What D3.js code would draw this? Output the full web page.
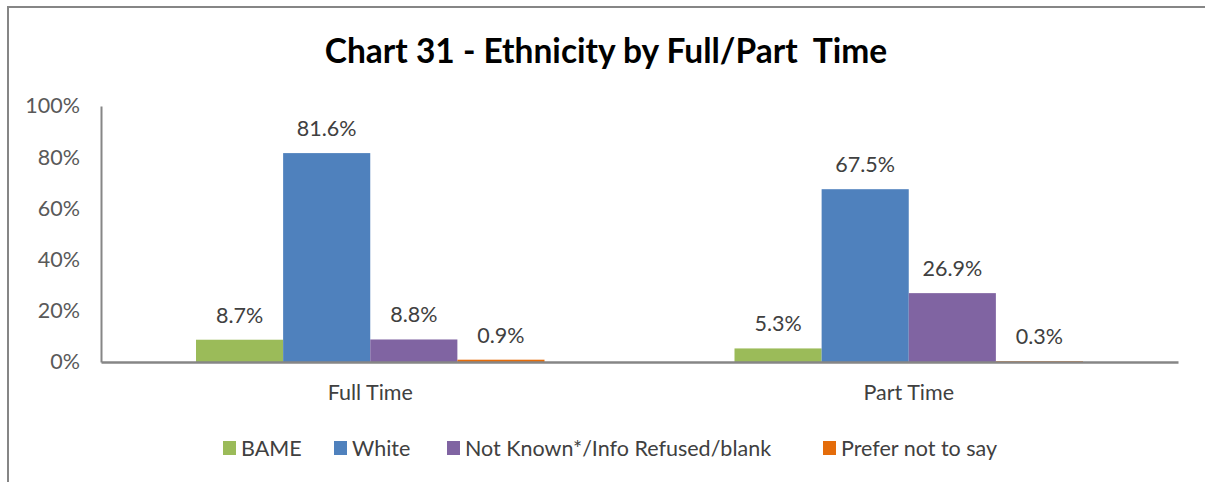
<!DOCTYPE html>
<html>
<head>
<meta charset="utf-8">
<script src="https://cdn.jsdelivr.net/npm/d3@7"></script>
<style>
  body { margin: 0; background: #fff; }
  svg { display: block; font-family: Lato, "Open Sans", sans-serif; }
</style>
</head>
<body>
<svg width="1205" height="482"></svg>
<script>
let categories = ["Full Time", "Part Time"];
let seriesNames = ["BAME", "White", "Not Known*/Info Refused/blank", "Prefer not to say"];
let seriesColors = ["#9BBB59", "#4F81BD", "#8064A2", "#E46C0A"];
let bame = [8.7, 5.3];
let white = [81.6, 67.5];
let notKnown = [8.8, 26.9];
let preferNot = [0.9, 0.3];
let yTicks = [0, 20, 40, 60, 80, 100];

let seriesValues = [bame, white, notKnown, preferNot];

let svg = d3.select("svg"),
    margin = { top: 106, left: 101, right: 27, bottom: 120 },
    plotW = 1178 - margin.left,
    plotH = 362 - margin.top,
    fontSize = 21.5;

// chart frame
svg.append("path")
    .attr("d", "M8,482 V7 H1205")
    .attr("fill", "none")
    .attr("stroke", "#868686")
    .attr("stroke-width", 2);

svg.append("text")
    .attr("x", 606)
    .attr("y", 63)
    .attr("text-anchor", "middle")
    .attr("font-size", 33.5)
    .attr("font-weight", "bold")
    .attr("fill", "#000")
    .text("Chart 31 - Ethnicity by Full/Part  Time")
    .style("white-space", "pre");

let g = svg.append("g")
    .attr("transform", "translate(" + [margin.left, margin.top] + ")");

let x0 = d3.scaleBand()
    .domain(categories)
    .range([0, plotW]);

let x1 = d3.scaleBand()
    .domain(seriesNames)
    .range([95, x0.bandwidth() - 95]);

let y = d3.scaleLinear()
    .domain([0, 100])
    .range([plotH, 0]);

// y axis
let yAxis = d3.axisLeft(y)
    .tickValues(yTicks)
    .tickFormat(d => d + "%")
    .tickSize(0)
    .tickPadding(21);

let gy = g.append("g").call(yAxis);
gy.select(".domain").attr("stroke", "#868686").attr("stroke-width", 2);
gy.selectAll("text")
    .attr("font-size", fontSize)
    .attr("font-family", "Lato, 'Open Sans', sans-serif")
    .attr("fill", "#595959");

// bars
let groups = g.selectAll(".cat")
    .data(categories)
    .enter().append("g")
    .attr("class", "cat")
    .attr("transform", d => "translate(" + x0(d) + ",0)");

groups.each(function (cat, ci) {
    let data = seriesNames.map((s, si) => ({ name: s, value: seriesValues[si][ci], color: seriesColors[si] }));
    let gg = d3.select(this);
    gg.selectAll("rect")
        .data(data)
        .enter().append("rect")
        .attr("x", d => x1(d.name))
        .attr("width", x1.bandwidth())
        .attr("y", d => y(d.value))
        .attr("height", d => plotH - y(d.value))
        .attr("fill", d => d.color);
    gg.selectAll(".lbl")
        .data(data)
        .enter().append("text")
        .attr("class", "lbl")
        .attr("x", d => x1(d.name) + x1.bandwidth() / 2)
        .attr("y", d => y(d.value) - 17)
        .attr("text-anchor", "middle")
        .attr("font-size", fontSize)
        .attr("fill", "#404040")
        .text(d => d.value.toFixed(1) + "%");
});

// x axis
let xAxis = d3.axisBottom(x0).tickSize(0).tickPadding(23);
let gx = g.append("g")
    .attr("transform", "translate(0," + plotH + ")")
    .call(xAxis);
gx.select(".domain").attr("stroke", "#868686").attr("stroke-width", 2.5);
gx.selectAll("text")
    .attr("font-size", fontSize)
    .attr("font-family", "Lato, 'Open Sans', sans-serif")
    .attr("fill", "#404040");

// legend
let legendX = [223, 334, 447, 823];
let legend = svg.append("g")
    .selectAll("g")
    .data(seriesNames)
    .enter().append("g")
    .attr("transform", (d, i) => "translate(" + [legendX[i], 448] + ")");

legend.append("rect")
    .attr("x", 0)
    .attr("y", -7)
    .attr("width", 13)
    .attr("height", 14)
    .attr("fill", (d, i) => seriesColors[i]);

legend.append("text")
    .attr("x", 18)
    .attr("y", 7.5)
    .attr("font-size", fontSize)
    .attr("fill", "#404040")
    .text(d => d);
</script>
</body>
</html>
